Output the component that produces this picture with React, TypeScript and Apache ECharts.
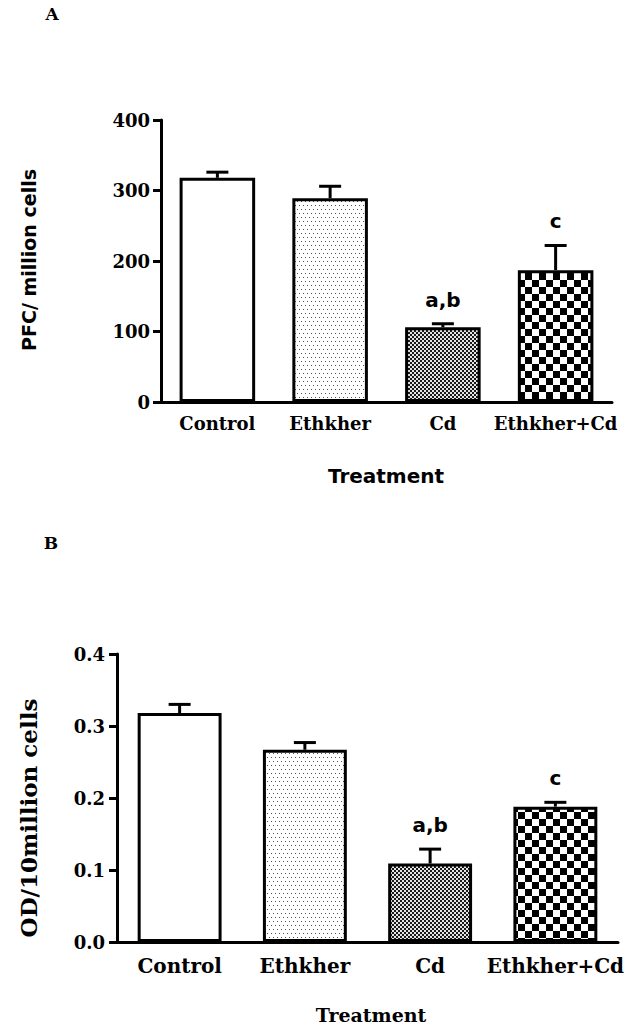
import React, { useEffect, useRef } from 'react';
import * as echarts from 'echarts';

const categories = ['Control', 'Ethkher', 'Cd', 'Ethkher+Cd'];
const pfcMeans = [318, 289, 106, 187];
const pfcSem = [8, 17, 5, 35];
const odMeans = [0.318, 0.267, 0.109, 0.188];
const odSem = [0.012, 0.01, 0.02, 0.006];
const sigLabels = ['', '', 'a,b', 'c'];
const pfcAxis = { min: 0, max: 400, interval: 100 };
const odAxis = { min: 0, max: 0.4, interval: 0.1 };

function makeTile(size: number, draw: (ctx: CanvasRenderingContext2D) => void) {
  const c = document.createElement('canvas');
  c.width = size;
  c.height = size;
  const ctx = c.getContext('2d') as CanvasRenderingContext2D;
  draw(ctx);
  return { image: c.toDataURL(), repeat: 'repeat', imageWidth: size, imageHeight: size } as any;
}

function buildPatterns() {
  const white = '#ffffff';
  const dots = makeTile(8, (ctx) => {
    ctx.fillStyle = white;
    ctx.fillRect(0, 0, 8, 8);
    ctx.fillStyle = '#555';
    ctx.fillRect(1, 1, 1, 1);
    ctx.fillRect(5, 1, 1, 1);
    ctx.fillRect(3, 5, 1, 1);
    ctx.fillRect(7, 5, 1, 1);
  });
  const fine = makeTile(4, (ctx) => {
    ctx.fillStyle = '#e4e4e4';
    ctx.fillRect(0, 0, 4, 4);
    ctx.fillStyle = '#1a1a1a';
    ctx.fillRect(0, 0, 2, 2);
    ctx.fillRect(2, 2, 2, 2);
  });
  const coarse = makeTile(14, (ctx) => {
    ctx.fillStyle = white;
    ctx.fillRect(0, 0, 14, 14);
    ctx.fillStyle = '#000';
    ctx.fillRect(0, 0, 7, 7);
    ctx.fillRect(7, 7, 7, 7);
  });
  return [white, dots, fine, coarse];
}

const serif = 'DejaVu Serif';
const sans = 'DejaVu Sans';

export default function App() {
  const ref = useRef<HTMLDivElement>(null);
  useEffect(() => {
    if (!ref.current) return;
    const chart = echarts.init(ref.current, undefined, { renderer: 'svg' });
    const fills = buildPatterns();

    const barData = (vals: number[]) =>
      vals.map((v, i) => ({
        value: v,
        itemStyle: { color: fills[i], borderColor: '#000', borderWidth: 3 },
      }));

    const errSeries = (means: number[], sems: number[], idx: number) => ({
      type: 'custom',
      xAxisIndex: idx,
      yAxisIndex: idx,
      z: 1,
      encode: { x: 0, y: 1 },
      data: means.map((m, i) => [i, m, sems[i]]),
      renderItem: (params: any, api: any) => {
        const i = api.value(0);
        const mean = api.value(1);
        const top = mean + api.value(2);
        const p0 = api.coord([i, mean]);
        const p1 = api.coord([i, top]);
        const cap = 11;
        const children: any[] = [
          { type: 'line', shape: { x1: p0[0], y1: p0[1], x2: p1[0], y2: p1[1] }, style: { stroke: '#000', lineWidth: 3 } },
          { type: 'line', shape: { x1: p1[0] - cap, y1: p1[1], x2: p1[0] + cap, y2: p1[1] }, style: { stroke: '#000', lineWidth: 3 } },
        ];
        const lbl = sigLabels[params.dataIndex];
        if (lbl) {
          children.push({
            type: 'text',
            x: p1[0],
            y: p1[1] - 24,
            style: {
              text: lbl, fill: '#000', fontSize: 20, fontWeight: 'bold', fontFamily: sans,
              align: 'center', verticalAlign: 'middle', textAlign: 'center', textVerticalAlign: 'middle',
            },
          });
        }
        return { type: 'group', children };
      },
    });

    const axisLine = { show: true, lineStyle: { color: '#000', width: 3 } };

    const option: any = {
      animation: false,
      grid: [
        { left: 161, top: 120, width: 451, height: 282 },
        { left: 117, top: 654, width: 501, height: 288 },
      ],
      xAxis: [
        {
          type: 'category', gridIndex: 0, data: categories,
          axisLine, axisTick: { show: false },
          axisLabel: { interval: 0, hideOverlap: false, margin: 12, color: '#000', fontFamily: serif, fontWeight: 'bold', fontSize: 18 },
        },
        {
          type: 'category', gridIndex: 1, data: categories,
          axisLine, axisTick: { show: false },
          axisLabel: { interval: 0, hideOverlap: false, margin: 14, color: '#000', fontFamily: serif, fontWeight: 'bold', fontSize: 20 },
        },
      ],
      yAxis: [
        {
          type: 'value', gridIndex: 0, ...pfcAxis,
          axisLine, splitLine: { show: false },
          axisTick: { show: true, length: 8, lineStyle: { color: '#000', width: 3 } },
          axisLabel: { margin: 11, color: '#000', fontFamily: serif, fontWeight: 'bold', fontSize: 18 },
        },
        {
          type: 'value', gridIndex: 1, ...odAxis,
          axisLine, splitLine: { show: false },
          axisTick: { show: true, length: 8, lineStyle: { color: '#000', width: 3 } },
          axisLabel: {
            margin: 12, color: '#000', fontFamily: serif, fontWeight: 'bold', fontSize: 18,
            formatter: (v: number) => v.toFixed(1),
          },
        },
      ],
      series: [
        { type: 'bar', xAxisIndex: 0, yAxisIndex: 0, barWidth: '67%', z: 2, data: barData(pfcMeans) },
        errSeries(pfcMeans, pfcSem, 0),
        { type: 'bar', xAxisIndex: 1, yAxisIndex: 1, barWidth: '67%', z: 2, data: barData(odMeans) },
        errSeries(odMeans, odSem, 1),
      ],
      graphic: [
        { type: 'text', x: 52, y: 14, style: { text: 'A', fontSize: 17, fontWeight: 'bold', fontFamily: serif, fill: '#000', textAlign: 'center', textVerticalAlign: 'middle' } },
        { type: 'text', x: 51, y: 543, style: { text: 'B', fontSize: 17, fontWeight: 'bold', fontFamily: serif, fill: '#000', textAlign: 'center', textVerticalAlign: 'middle' } },
        { type: 'text', x: 29, y: 260, rotation: Math.PI / 2, style: { text: 'PFC/ million cells', fontSize: 19, fontWeight: 'bold', fontFamily: sans, fill: '#000', textAlign: 'center', textVerticalAlign: 'middle' } },
        { type: 'text', x: 386, y: 476, style: { text: 'Treatment', fontSize: 20, fontWeight: 'bold', fontFamily: sans, fill: '#000', textAlign: 'center', textVerticalAlign: 'middle' } },
        { type: 'text', x: 28, y: 818, rotation: Math.PI / 2, style: { text: 'OD/10million cells', fontSize: 23, fontWeight: 'bold', fontFamily: serif, fill: '#000', textAlign: 'center', textVerticalAlign: 'middle' } },
        { type: 'text', x: 371, y: 1015, style: { text: 'Treatment', fontSize: 19, fontWeight: 'bold', fontFamily: serif, fill: '#000', textAlign: 'center', textVerticalAlign: 'middle' } },
      ],
    };
    chart.setOption(option);
    return () => chart.dispose();
  }, []);
  return (
    <div
      ref={ref}
      style={{ position: 'absolute', left: 0, top: 0, width: 630, height: 1029, background: '#fff' }}
    />
  );
}
